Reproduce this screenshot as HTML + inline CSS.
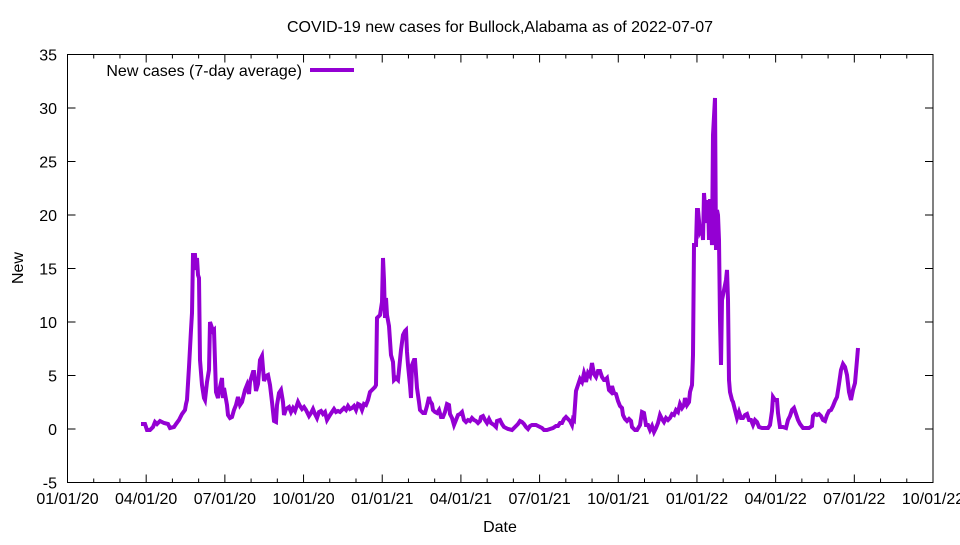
<!DOCTYPE html>
<html><head><meta charset="utf-8"><style>
html,body{margin:0;padding:0;background:#fff}
svg text{font-family:"Liberation Sans",Arial,sans-serif;font-size:16px;fill:#000}
</style></head><body>
<svg width="960" height="540" viewBox="0 0 960 540" xmlns="http://www.w3.org/2000/svg">
<rect x="0" y="0" width="960" height="540" fill="#fff"/>
<text x="500" y="32" text-anchor="middle" font-size="15">COVID-19 new cases for Bullock,Alabama as of 2022-07-07</text>
<g id="yt" stroke="#000" stroke-width="1"></g>
<g id="xt" stroke="#000" stroke-width="1"></g>
<g id="lbl"></g>
<rect x="67.5" y="54.5" width="865.5" height="428" fill="none" stroke="#000" stroke-width="1"/>
<text x="500" y="532" text-anchor="middle">Date</text>
<text x="23" y="268" text-anchor="middle" transform="rotate(-90 23 268)">New</text>
<text x="302" y="76" text-anchor="end">New cases (7-day average)</text>
<line x1="310" y1="70" x2="354" y2="70" stroke="#9400d3" stroke-width="4"/>
<polyline fill="none" stroke="#9400d3" stroke-width="4" stroke-linejoin="miter" points="141,424 145,424 147,430 150,430 153,427 155,422 157,424 160,421 164,423 168,424 170,428 174,427 176,424 179,420 182,414 185,410 186,404 187,400 189,367 191,330 192,313 193,255 195,255 196,270 197,258 198,275 199,278 200,360 202,385 204,398 205,400 207,382 209,370 210,322 211,325 213,331 214,330 216,392 218,398 220,387 222,378 223,398 224,388 227,405 228,415 230,418 232,417 234,410 236,405 238,397 240,405 242,402 245,390 247,385 249,394 250,382 253,372 254,372 256,391 258,384 260,360 262,356 264,381 266,376 268,375 270,385 272,402 274,421 276,422 277,405 279,393 281,390 283,402 284,415 286,409 289,407 291,412 293,408 295,411 298,402 300,406 302,409 304,407 306,410 309,416 311,413 313,409 315,414 317,418 319,412 321,411 323,414 325,412 327,420 330,415 332,412 334,409 336,412 338,411 340,412 344,408 346,410 348,406 350,409 352,408 354,406 356,410 358,404 360,405 362,410 364,404 366,405 368,400 370,392 372,390 375,387 376,385 377,318 380,315 382,302 383,258 384,280 385,318 386,298 387,315 389,326 391,355 393,362 394,380 396,378 398,380 400,360 401,350 403,335 405,331 406,330 407,352 408,365 410,385 411,398 412,365 414,360 415,360 417,388 419,402 420,410 422,412 423,413 425,413 427,406 429,397 430,401 432,404 433,410 435,412 437,413 439,410 441,417 443,417 445,412 447,404 449,405 450,414 452,418 454,425 456,420 458,415 460,414 462,412 464,420 466,422 468,420 470,421 472,418 474,420 476,421 478,423 480,421 481,417 483,416 485,420 487,423 489,419 491,423 494,425 496,427 497,421 500,420 502,424 504,427 508,429 512,430 514,428 516,426 518,424 520,421 522,422 524,424 526,427 528,429 530,426 532,425 536,425 540,427 542,428 544,430 547,430 550,429 553,428 556,426 558,426 560,423 562,423 564,419 566,417 568,419 570,421 572,425 573,419 574,420 576,391 578,385 580,379 582,382 584,373 585,376 586,382 588,373 590,376 592,363 594,374 596,377 598,371 600,371 602,377 604,380 605,380 607,378 609,390 611,392 612,386 614,393 616,394 618,401 620,406 622,408 623,415 625,419 627,421 629,419 631,421 632,427 635,430 637,430 640,425 642,412 644,413 646,425 648,425 650,430 652,426 654,432 656,428 658,423 660,415 662,419 664,422 666,418 668,420 670,418 672,414 674,415 676,410 678,412 680,404 682,408 684,405 685,398 687,405 689,402 690,392 692,385 693,355 694,245 696,245 697,210 698,210 700,232 702,228 703,240 704,193 706,223 708,200 709,240 710,199 712,245 713,135 715,98 716,250 717,210 718,215 719,240 720,320 721,365 722,300 724,290 726,280 727,270 728,300 729,380 730,392 732,400 733,402 735,410 737,418 739,412 741,418 743,418 745,415 747,414 749,420 751,420 753,425 755,420 757,422 759,427 762,428 765,428 768,428 770,425 772,411 773,397 775,400 777,400 778,413 780,427 783,427 786,428 788,420 790,416 792,410 794,408 796,414 798,420 800,424 803,428 806,428 809,428 812,426 813,416 815,414 817,415 819,414 821,416 823,420 825,421 827,415 829,411 831,410 833,406 835,401 837,397 839,384 841,370 843,364 845,367 847,375 849,392 851,400 853,390 855,383 857,360 858,348"/>
</svg>
<script>
(function(){
var NS="http://www.w3.org/2000/svg";
function el(p,t,a,txt){var e=document.createElementNS(NS,t);for(var k in a)e.setAttribute(k,a[k]);if(txt!=null)e.textContent=txt;document.getElementById(p).appendChild(e);}
for(var v=-5;v<=35;v+=5){var y=482.5-(v+5)*10.7;
 el("yt","line",{x1:67.5,y1:y,x2:75.5,y2:y});el("yt","line",{x1:933,y1:y,x2:925,y2:y});
 el("lbl","text",{x:57,y:y+6,"text-anchor":"end"},String(v));}
var labs=["01/01/20","04/01/20","07/01/20","10/01/20","01/01/21","04/01/21","07/01/21","10/01/21","01/01/22","04/01/22","07/01/22","10/01/22"];
for(var i=0;i<=33;i++){var x=67.5+i*865.5/33;var L=(i%3==0)?8:4;
 el("xt","line",{x1:x,y1:482.5,x2:x,y2:482.5-L});el("xt","line",{x1:x,y1:54.5,x2:x,y2:54.5+L});
 if(i%3==0)el("lbl","text",{x:x,y:504,"text-anchor":"middle"},labs[i/3]);}
})();
</script>
</body></html>
